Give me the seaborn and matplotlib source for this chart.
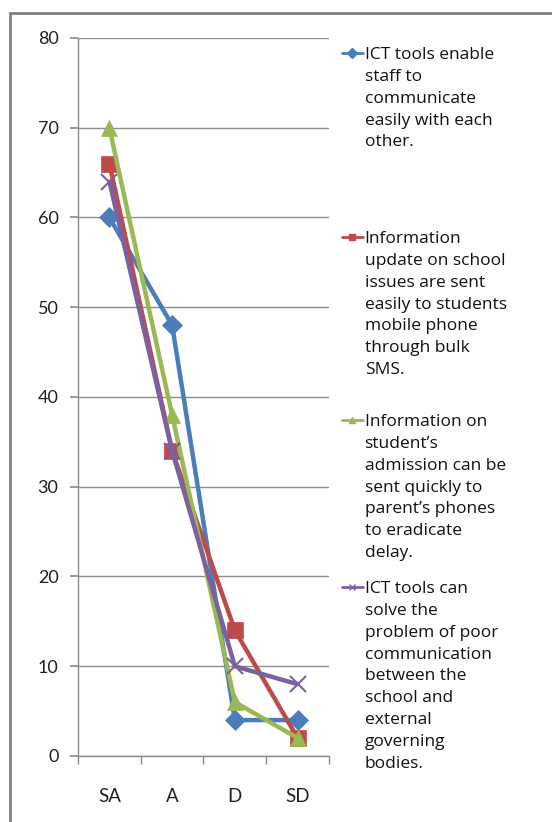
import numpy as np
import pandas as pd
import matplotlib
matplotlib.use('Agg')
import matplotlib.pyplot as plt
import seaborn as sns
from matplotlib.lines import Line2D
from matplotlib.patches import Rectangle

categories = ['SA', 'A', 'D', 'SD']
ict_staff = [60, 48, 4, 4]
info_update = [66, 34, 14, 2]
admission_info = [70, 38, 6, 2]
poor_comm = [64, 34, 10, 8]

labels = [
    'ICT tools enable\nstaff to\ncommunicate\neasily with each\nother.',
    'Information\nupdate on school\nissues are sent\neasily to students\nmobile phone\nthrough bulk\nSMS.',
    'Information on\nstudent\u2019s\nadmission can be\nsent quickly to\nparent\u2019s phones\nto eradicate\ndelay.',
    'ICT tools can\nsolve the\nproblem of poor\ncommunication\nbetween the\nschool and\nexternal\ngoverning\nbodies.',
]
colors = ['#4A7EBB', '#BE4B48', '#98B954', '#7D60A0']
markers = ['D', 's', '^', 'x']
msizes = [10, 11, 11, 11]

sns.set_theme(style='white')
plt.rcParams['font.family'] = ['Lato', 'DejaVu Sans']

fig = plt.figure(figsize=(5.52, 8.22), dpi=100)
ax = fig.add_axes([0.1413, 0.0803, 0.4547, 0.8735])

# outer chart frame (cut off at right/bottom)
fig.patches.append(Rectangle((10 / 552, -0.05), 1.1, 1 - 13 / 822 + 0.05,
                             transform=fig.transFigure, fill=False,
                             edgecolor='#808080', linewidth=2))

series = [ict_staff, info_update, admission_info, poor_comm]
x = np.arange(len(categories))
for vals, c, m, ms in zip(series, colors, markers, msizes):
    df = pd.DataFrame({'x': x, 'y': vals})
    sns.lineplot(data=df, x='x', y='y', ax=ax, color=c, linewidth=3.2,
                 marker=m, markersize=ms, markeredgecolor=c,
                 markeredgewidth=1.5 if m == 'x' else 0.5, legend=False)

ax.set_xlim(-0.5, 3.5)
ax.set_ylim(0, 80)
ax.set_yticks(range(0, 81, 10))
ax.set_xticks(x)
ax.set_xticklabels(categories)
ax.set_xticks([-0.5, 0.5, 1.5, 2.5, 3.5], minor=True)
ax.set_xlabel('')
ax.set_ylabel('')
ax.yaxis.grid(True, color='#8C8C8C', linewidth=1)
ax.xaxis.grid(False)
for s in ['top', 'right']:
    ax.spines[s].set_visible(False)
for s in ['left', 'bottom']:
    ax.spines[s].set_color('#8C8C8C')
    ax.spines[s].set_linewidth(1)
ax.tick_params(axis='y', which='major', left=True, length=6, color='#8C8C8C',
               labelsize=13, pad=8, labelcolor='#222222')
ax.tick_params(axis='x', which='major', bottom=False, labelsize=13.5, pad=17,
               labelcolor='#222222')
ax.tick_params(axis='x', which='minor', bottom=True, length=6, color='#8C8C8C')

# legend entries placed individually: handle sits next to the first line
leg_font = ['Open Sans', 'DejaVu Sans']
leg_size = 12.5
tops = [50, 234, 417, 584]
line_h = 21.8
fig.canvas.draw()
renderer = fig.canvas.get_renderer()
for lab, c, m, top in zip(labels, colors, markers, tops):
    lines = lab.split('\n')
    h = Line2D([], [], color=c, linewidth=2, marker=m, markersize=5,
               markeredgecolor=c)
    leg = fig.legend([h], [lines[0]], loc='upper left',
                     bbox_to_anchor=(342 / 552, 1 - (top - 3) / 822),
                     frameon=False, handlelength=1.2, handletextpad=0.1,
                     borderpad=0, borderaxespad=0,
                     prop={'family': leg_font, 'size': leg_size})
    leg.get_texts()[0].set_color('#111111')
    fig.canvas.draw()
    bb = leg.get_texts()[0].get_window_extent(renderer)
    x0 = bb.x0 / fig.bbox.width
    y0 = bb.y1
    for i, ln in enumerate(lines[1:], start=1):
        fig.text(x0, (y0 - i * line_h) / fig.bbox.height, ln, ha='left', va='top',
                 fontsize=leg_size, family=leg_font, color='#111111')

fig.savefig('out.png', dpi=100)
